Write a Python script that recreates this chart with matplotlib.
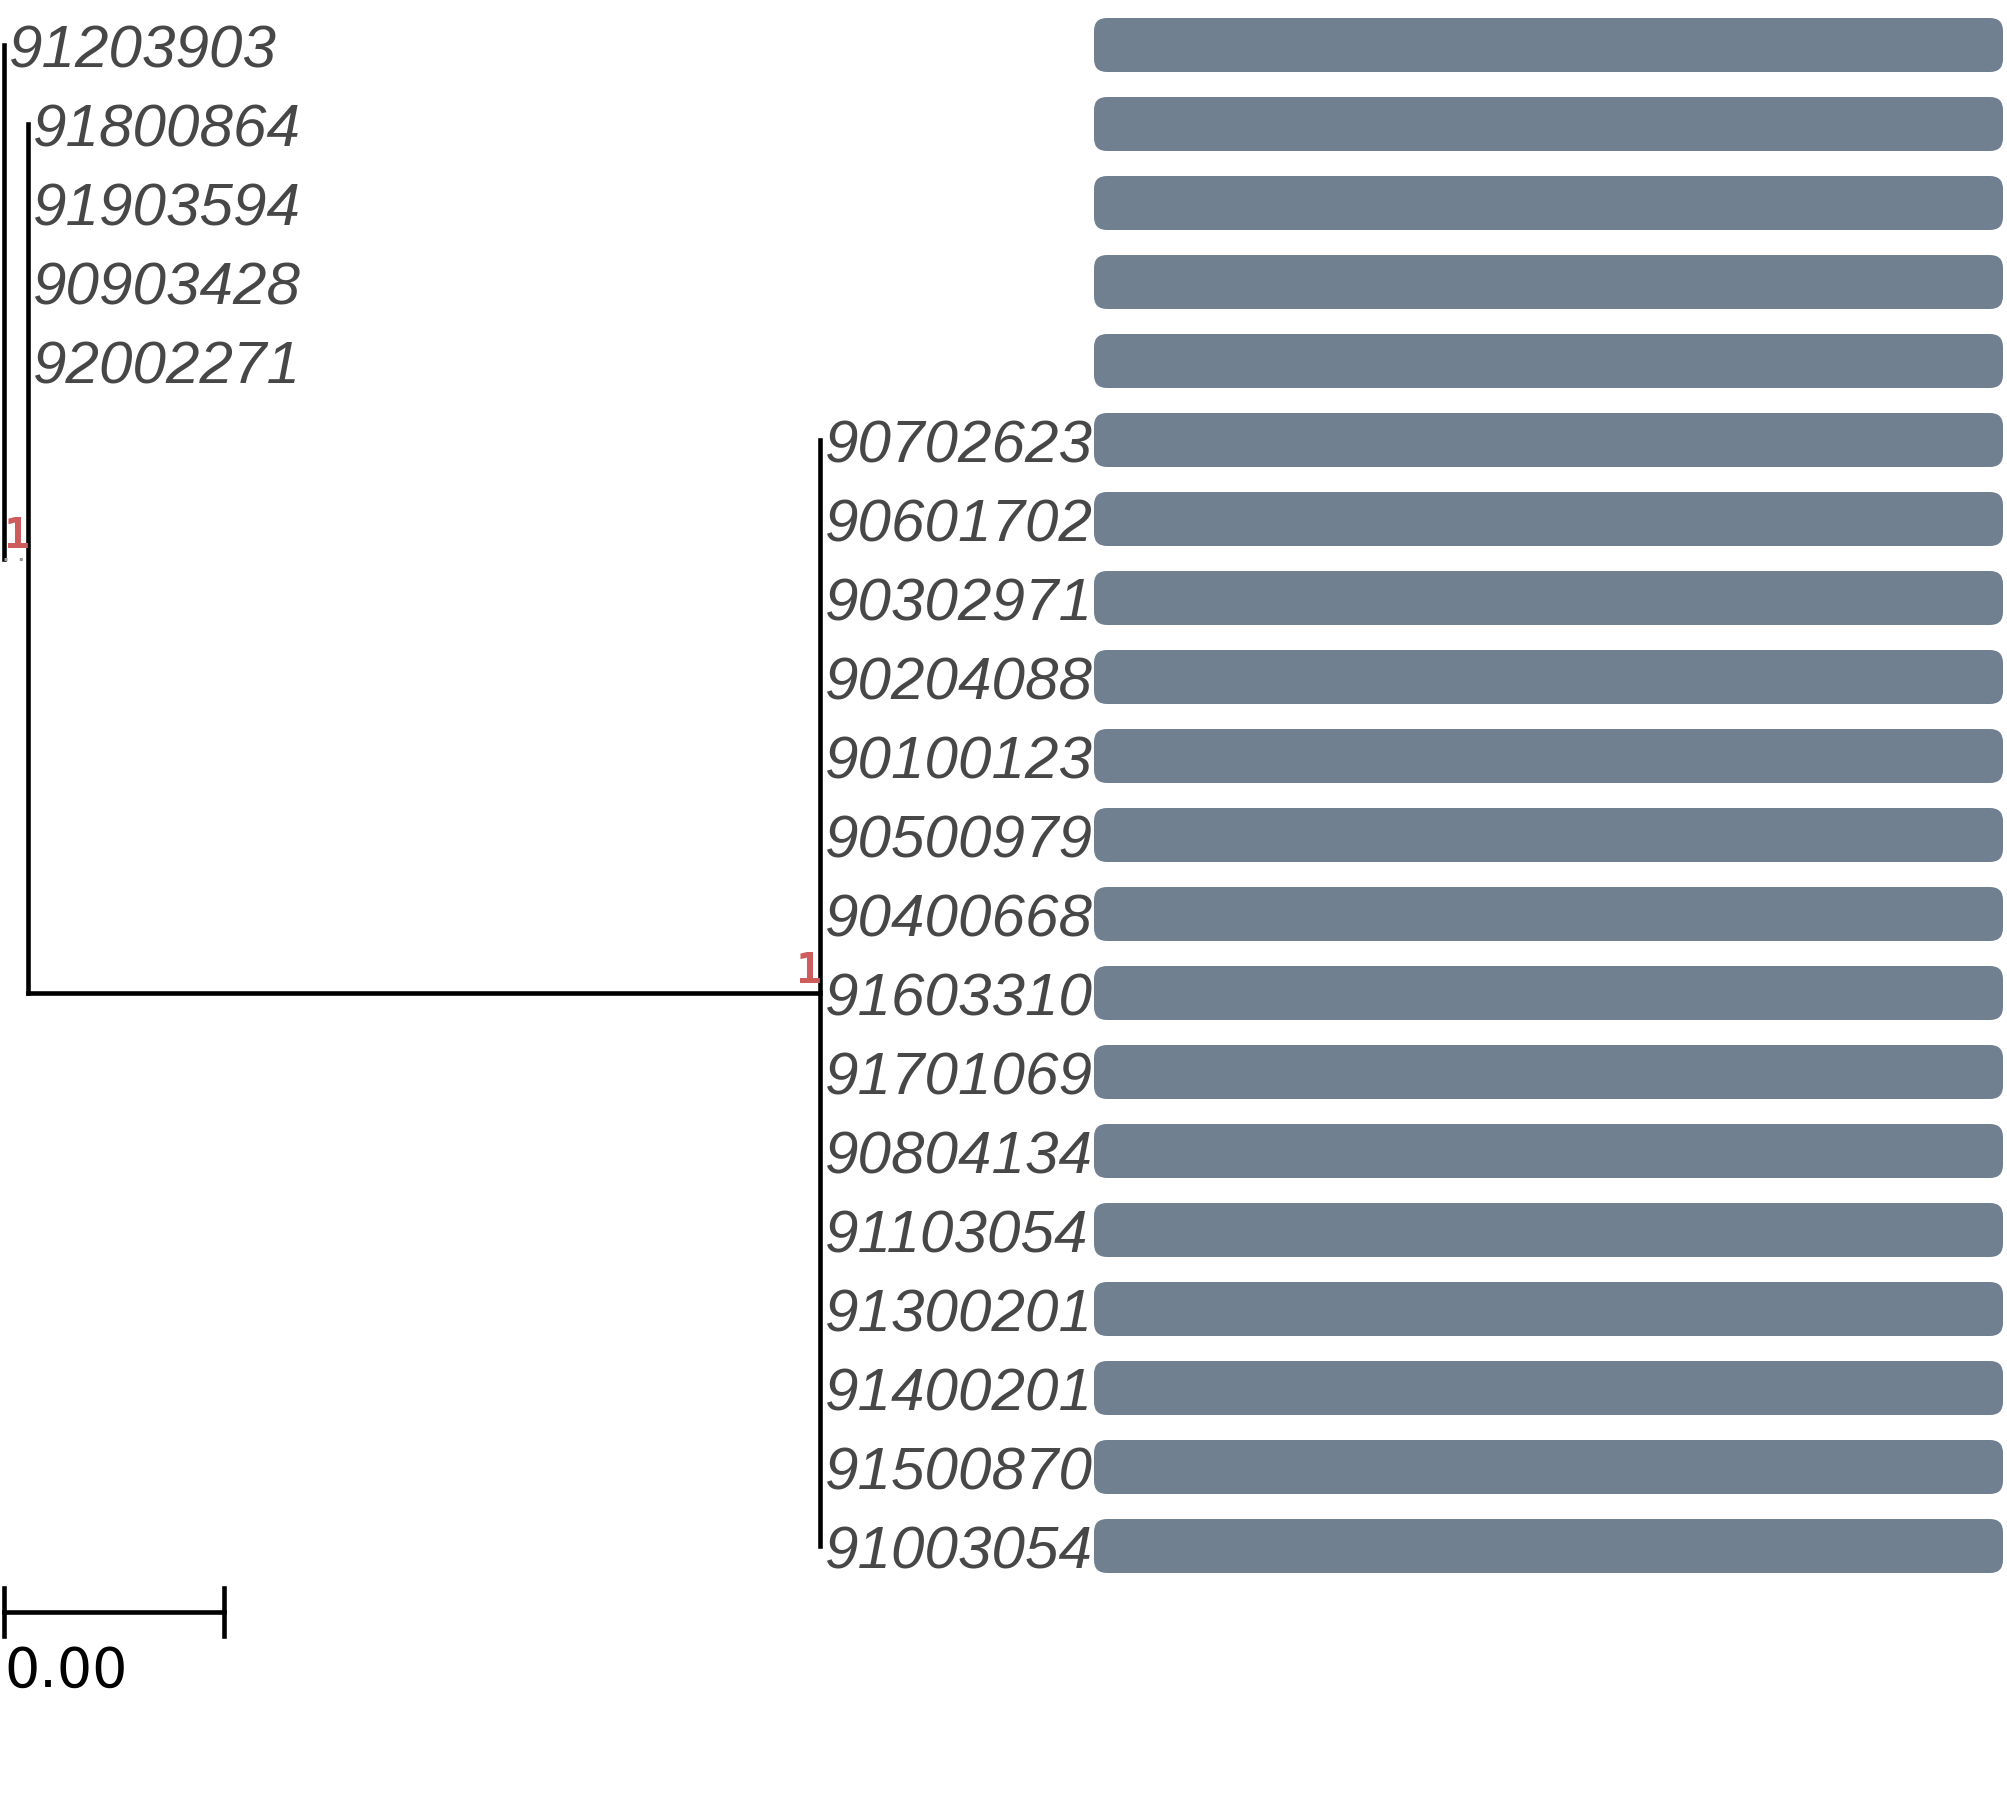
import matplotlib.pyplot as plt
from matplotlib.patches import FancyBboxPatch

# tips from top to bottom
tip_labels = ['91203903', '91800864', '91903594', '90903428', '92002271',
              '90702623', '90601702', '90302971', '90204088', '90100123',
              '90500979', '90400668', '91603310', '91701069', '90804134',
              '91103054', '91300201', '91400201', '91500870', '91003054']
tip_parent = ['root', 'n1', 'n1', 'n1', 'n1'] + ['n2'] * 15
bar_values = [1, 1, 1, 1, 1, 1, 1, 1, 1, 1, 1, 1, 1, 1, 1, 1, 1, 1, 1, 1]

# internal nodes: parent, branch length, support
node_names = ['root', 'n1', 'n2']
node_parent = [None, 'root', 'n1']
node_branch = [0.0, 0.00011, 0.0036]
node_support = [None, '1', '1']

scale_value = 0.001
scale_label = '0.00'

W, H = 2007, 1810
fig = plt.figure(figsize=(W / 100, H / 100), dpi=100)

# px <-> data mapping
u = scale_value / 220.0
row0_px, row_px = 45.0, 79.0
ylim = (1 + (H - row0_px) / row_px, 1 - row0_px / row_px)

ax = fig.add_axes([0, 0, 1, 1])
ax.set_xlim(-4 * u, (W - 4) * u)
ax.set_ylim(*ylim)
ax.axis('off')

# depths
depth = {}
for name, par, bl in zip(node_names, node_parent, node_branch):
    depth[name] = (depth[par] if par else 0.0) + bl
tip_depth = [depth[p] for p in tip_parent]
tip_row = list(range(1, len(tip_labels) + 1))

# node rows (middle of extreme children, as ggtree)
children = {n: [] for n in node_names}
for r, p in zip(tip_row, tip_parent):
    children[p].append(('tip', r))
for n, p in zip(node_names, node_parent):
    if p:
        children[p].append(('node', n))
row = {}
def node_row(n):
    rs = [c[1] if c[0] == 'tip' else node_row(c[1]) for c in children[n]]
    row[n] = (min(rs) + max(rs)) / 2
    row[n + '_span'] = (min(rs), max(rs))
    return row[n]
node_row('root')

lw = 3.3
for n, p in zip(node_names, node_parent):
    lo, hi = row[n + '_span']
    ax.plot([depth[n], depth[n]], [lo, hi], color='black', lw=lw)
    if p:
        if p == 'root':
            ax.plot([depth[p], depth[n]], [row[n], row[n]], color='#9a9a9a',
                    lw=2.2, linestyle=(0, (1, 4)), solid_capstyle='butt')
        else:
            ax.plot([depth[p], depth[n]], [row[n], row[n]], color='black', lw=lw)

for n, s in zip(node_names, node_support):
    if s:
        ax.annotate(s, (depth[n], row[n]), xytext=(1.5, 7.5), textcoords='offset points',
                    ha='right', va='baseline', color='#cd5c5c', fontsize=31,
                    family='DejaVu Sans Mono', weight='bold')

for lab, d, r in zip(tip_labels, tip_depth, tip_row):
    ax.annotate(lab, (d, r), xytext=(3.5, -16), textcoords='offset points',
                ha='left', va='baseline', color='#474747', fontsize=43.3,
                family='Liberation Sans', style='italic')

# scale bar
sb_row = 1 + (1612 - row0_px) / row_px
tick = 24 / row_px
ax.plot([0, scale_value], [sb_row, sb_row], color='black', lw=lw)
ax.plot([0, 0], [sb_row - tick, sb_row + tick], color='black', lw=lw)
ax.plot([scale_value, scale_value], [sb_row - tick, sb_row + tick], color='black', lw=lw)
ax.text(0.7 * u, 1 + (1687 - row0_px) / row_px, scale_label, ha='left', va='baseline',
        color='black', fontsize=40, family='DejaVu Sans')

# bars
bx0, bx1 = 1094, 2003
bax = fig.add_axes([bx0 / W, 0, (bx1 - bx0) / W, 1])
bax.set_xlim(0, max(bar_values))
bax.set_ylim(*ylim)
bax.axis('off')
half = 27 / row_px
aspect = (bx1 - bx0) / row_px
r_round = 13.0 / (bx1 - bx0)
for v, r in zip(bar_values, tip_row):
    bax.add_patch(FancyBboxPatch((0, r - half), v, 2 * half,
                                 boxstyle='round,pad=0,rounding_size=%f' % r_round,
                                 mutation_aspect=aspect, facecolor='#708090',
                                 edgecolor='none'))

fig.savefig('out.png', dpi=100)
